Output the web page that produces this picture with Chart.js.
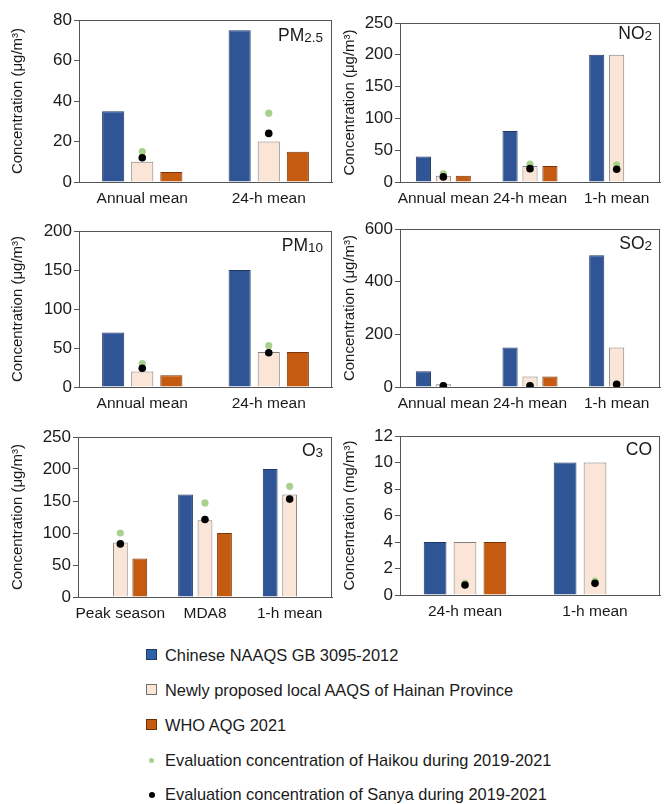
<!DOCTYPE html>
<html>
<head>
<meta charset="utf-8">
<script src="https://cdn.jsdelivr.net/npm/chart.js@4.4.1/dist/chart.umd.min.js"></script>
<style>
  html, body { margin: 0; padding: 0; background: #fff; }
  body { width: 664px; height: 804px; position: relative; overflow: hidden; font-family: "Liberation Sans", Arial, sans-serif; }
  .panel { position: absolute; }
  .lg { position: absolute; left: 0; font-size: 16.4px; color: #1a1a1a; line-height: 18px; white-space: nowrap; }
  .lg .sw { position: absolute; left: 146px; top: 3px; width: 11px; height: 11px; box-sizing: border-box; border: 1px solid #333; }
  .lg .dot { position: absolute; border-radius: 50%; }
  .lg span.t { position: absolute; left: 165px; top: 0; }
</style>
</head>
<body>
<div class="panel" style="left:0;top:0;width:340px;height:210px"><canvas id="c1"></canvas></div>
<div class="panel" style="left:332px;top:0;width:332px;height:210px"><canvas id="c2"></canvas></div>
<div class="panel" style="left:0;top:210px;width:340px;height:205px"><canvas id="c3"></canvas></div>
<div class="panel" style="left:332px;top:210px;width:332px;height:205px"><canvas id="c4"></canvas></div>
<div class="panel" style="left:0;top:420px;width:340px;height:205px"><canvas id="c5"></canvas></div>
<div class="panel" style="left:332px;top:420px;width:332px;height:203px"><canvas id="c6"></canvas></div>

<div class="lg" style="top:646px"><div class="sw" style="background:#2E62A8;border-color:#1F3864"></div><span class="t">Chinese NAAQS GB 3095-2012</span></div>
<div class="lg" style="top:681px"><div class="sw" style="background:#FBE5D6;border-color:#6f6f6f"></div><span class="t">Newly proposed local AAQS of Hainan Province</span></div>
<div class="lg" style="top:716px"><div class="sw" style="background:#C55A11;border-color:#6b3008"></div><span class="t">WHO AQG 2021</span></div>
<div class="lg" style="top:751px"><div class="dot" style="left:149px;top:7px;width:5px;height:5px;background:#A9D18E"></div><span class="t">Evaluation concentration of Haikou during 2019-2021</span></div>
<div class="lg" style="top:785px"><div class="dot" style="left:149px;top:7px;width:6px;height:6px;background:#000"></div><span class="t">Evaluation concentration of Sanya during 2019-2021</span></div>

<script>
// ---- Data ----
const seriesNames = ["Chinese NAAQS GB 3095-2012", "Newly proposed local AAQS of Hainan Province", "WHO AQG 2021", "Evaluation concentration of Haikou during 2019-2021", "Evaluation concentration of Sanya during 2019-2021"];

const pm25Labels = ["Annual mean", "24-h mean"];
const pm25Naaqs  = [35, 75];
const pm25Hainan = [10, 20];
const pm25Who    = [5, 15];
const pm25Haikou = [15, 34];
const pm25Sanya  = [12, 24];
const pm25Ticks  = [0, 20, 40, 60, 80];

const no2Labels = ["Annual mean", "24-h mean", "1-h mean"];
const no2Naaqs  = [40, 80, 200];
const no2Hainan = [10, 25, 200];
const no2Who    = [10, 25, null];
const no2Haikou = [13, 28, 27];
const no2Sanya  = [8, 21, 20];
const no2Ticks  = [0, 50, 100, 150, 200, 250];

const pm10Labels = ["Annual mean", "24-h mean"];
const pm10Naaqs  = [70, 150];
const pm10Hainan = [20, 45];
const pm10Who    = [15, 45];
const pm10Haikou = [30, 53];
const pm10Sanya  = [24, 44];
const pm10Ticks  = [0, 50, 100, 150, 200];

const so2Labels = ["Annual mean", "24-h mean", "1-h mean"];
const so2Naaqs  = [60, 150, 500];
const so2Hainan = [10, 40, 150];
const so2Who    = [null, 40, null];
const so2Haikou = [5, 5, 10];
const so2Sanya  = [5, 5, 10];
const so2Ticks  = [0, 200, 400, 600];

const o3Labels = ["Peak season", "MDA8", "1-h mean"];
const o3Naaqs  = [null, 160, 200];
const o3Hainan = [85, 120, 160];
const o3Who    = [60, 100, null];
const o3Haikou = [100, 147, 173];
const o3Sanya  = [83, 121, 153];
const o3Ticks  = [0, 50, 100, 150, 200, 250];

const coLabels = ["24-h mean", "1-h mean"];
const coNaaqs  = [4, 10];
const coHainan = [4, 10];
const coWho    = [4, null];
const coHaikou = [0.9, 1.05];
const coSanya  = [0.75, 0.88];
const coTicks  = [0, 2, 4, 6, 8, 10, 12];

// ---- Styling ----
const FONT = "'Liberation Sans', Arial, sans-serif";
const AXIS = '#555555';
const TXT = '#1a1a1a';

const framePlugin = {
  id: 'frame',
  afterDraw(chart, args, opts) {
    const a = chart.chartArea, ctx = chart.ctx;
    ctx.save();
    ctx.strokeStyle = AXIS;
    ctx.lineWidth = 1;
    ctx.strokeRect(Math.round(a.left) + 0.5, Math.round(a.top) + 0.5, Math.round(a.right - a.left) - 1, Math.round(a.bottom - a.top));
    // panel title with subscript
    ctx.fillStyle = TXT;
    ctx.textBaseline = 'alphabetic';
    ctx.textAlign = 'left';
    const main = opts.main, sub = opts.sub || '';
    ctx.font = '17.5px ' + FONT;
    const w1 = ctx.measureText(main).width;
    ctx.font = '13.5px ' + FONT;
    const w2 = ctx.measureText(sub).width;
    const x0 = a.right - opts.rightGap - w1 - w2;
    const y0 = a.top + opts.baseline;
    ctx.font = '17.5px ' + FONT;
    ctx.fillText(main, x0, y0);
    ctx.font = '13.5px ' + FONT;
    ctx.fillText(sub, x0 + w1, y0 + 0.5);
    ctx.restore();
  }
};

function makeChart(id, labels, naaqs, hainan, who, haikou, sanya, ticks, unit, cfg) {
  const ymax = ticks[ticks.length - 1];
  const step = ticks[1] - ticks[0];
  return new Chart(document.getElementById(id), {
    type: 'bar',
    data: {
      labels: labels,
      datasets: [
        { type: 'line', label: seriesNames[4], data: sanya, showLine: false, pointRadius: 3.8, pointBackgroundColor: '#000', pointBorderWidth: 0, order: 0 },
        { type: 'line', label: seriesNames[3], data: haikou, showLine: false, pointRadius: 3.6, pointBackgroundColor: '#A9D18E', pointBorderWidth: 0, order: 1 },
        { label: seriesNames[0], data: naaqs, backgroundColor: '#2F5597', borderColor: '#1F3864', borderWidth: 1, order: 2 },
        { label: seriesNames[1], data: hainan, backgroundColor: '#FBE5D6', borderColor: '#7F7F7F', borderWidth: 1, order: 3 },
        { label: seriesNames[2], data: who, backgroundColor: '#C55A11', borderColor: '#7A3509', borderWidth: 1, order: 4 }
      ]
    },
    options: {
      responsive: true,
      maintainAspectRatio: false,
      animation: false,
      categoryPercentage: 0.69,
      barPercentage: 0.76,
      layout: { padding: { top: cfg.padTop, right: cfg.padRight, left: 0, bottom: 0 } },
      plugins: {
        legend: { display: false },
        tooltip: { enabled: false },
        frame: { main: cfg.main, sub: cfg.sub, rightGap: cfg.rightGap, baseline: cfg.baseline }
      },
      scales: {
        x: {
          offset: true,
          grid: { display: false, drawTicks: false },
          border: { display: true, color: AXIS },
          ticks: { color: TXT, font: { family: FONT, size: 15.5 }, padding: 7, maxRotation: 0, autoSkip: false },
          afterFit: s => { s.height = cfg.xH; }
        },
        y: {
          min: 0, max: ymax,
          grid: { display: true, drawOnChartArea: false, drawTicks: true, tickLength: 5, color: AXIS },
          border: { display: true, color: AXIS },
          ticks: { stepSize: step, color: TXT, font: { family: FONT, size: 17 }, padding: 2 },
          title: { display: true, text: 'Concentration (' + unit + ')', color: TXT, font: { family: FONT, size: 15 }, padding: { top: 9, bottom: 0 } },
          afterFit: s => { s.width = cfg.yW; }
        }
      }
    },
    plugins: [framePlugin]
  });
}

const UG = 'μg/m³', MG = 'mg/m³';
makeChart('c1', pm25Labels, pm25Naaqs, pm25Hainan, pm25Who, pm25Haikou, pm25Sanya, pm25Ticks, UG,
  { padTop: 20, padRight: 8, xH: 28, yW: 79, main: 'PM', sub: '2.5', rightGap: 9, baseline: 21 });
makeChart('c2', no2Labels, no2Naaqs, no2Hainan, no2Who, no2Haikou, no2Sanya, no2Ticks, UG,
  { padTop: 23, padRight: 1, xH: 28, yW: 68, main: 'NO', sub: '2', rightGap: 8, baseline: 16 });
makeChart('c3', pm10Labels, pm10Naaqs, pm10Hainan, pm10Who, pm10Haikou, pm10Sanya, pm10Ticks, UG,
  { padTop: 21, padRight: 8, xH: 28, yW: 79, main: 'PM', sub: '10', rightGap: 9, baseline: 20 });
makeChart('c4', so2Labels, so2Naaqs, so2Hainan, so2Who, so2Haikou, so2Sanya, so2Ticks, UG,
  { padTop: 19, padRight: 1, xH: 28, yW: 68, main: 'SO', sub: '2', rightGap: 8, baseline: 20 });
makeChart('c5', o3Labels, o3Naaqs, o3Hainan, o3Who, o3Haikou, o3Sanya, o3Ticks, UG,
  { padTop: 17, padRight: 8, xH: 28, yW: 78, main: 'O', sub: '3', rightGap: 9, baseline: 19 });
makeChart('c6', coLabels, coNaaqs, coHainan, coWho, coHaikou, coSanya, coTicks, MG,
  { padTop: 16, padRight: 1, xH: 28, yW: 68, main: 'CO', sub: '', rightGap: 8, baseline: 19 });
</script>
</body>
</html>
